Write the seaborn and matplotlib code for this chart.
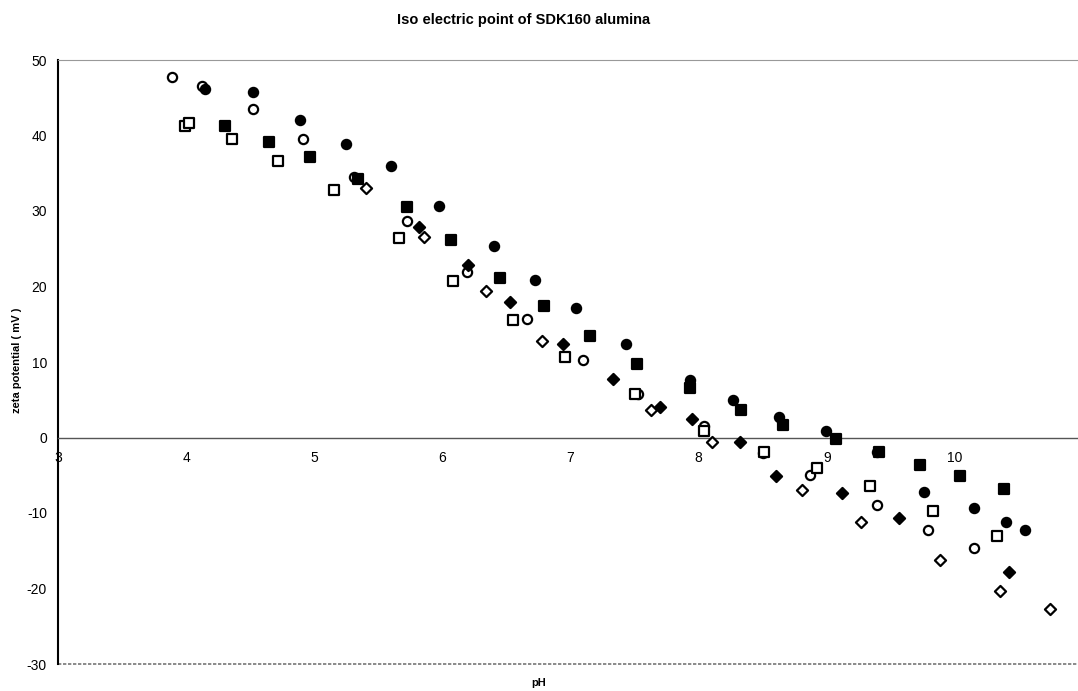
import matplotlib
matplotlib.use("Agg")
import matplotlib.pyplot as plt
import seaborn as sns
import pandas as pd

# ---- data ----
oc_ph = [3.89, 4.12, 4.52, 4.91, 5.31, 5.72, 6.19, 6.66, 7.10, 7.53, 8.04, 8.50, 8.87, 9.39, 9.79, 10.15]
oc_zeta = [47.7, 46.5, 43.5, 39.6, 34.5, 28.7, 21.9, 15.7, 10.3, 5.7, 1.5, -2.0, -5.0, -9.0, -12.2, -14.7]

fc_ph = [4.15, 4.52, 4.89, 5.25, 5.60, 5.97, 6.40, 6.72, 7.04, 7.43, 7.93, 8.27, 8.63, 8.99, 9.39, 9.76, 10.15, 10.40, 10.55]
fc_zeta = [46.1, 45.8, 42.1, 38.9, 35.9, 30.6, 25.4, 20.8, 17.1, 12.4, 7.6, 5.0, 2.7, 0.9, -1.9, -7.2, -9.4, -11.2, -12.3]

fs_ph = [4.30, 4.65, 4.97, 5.34, 5.72, 6.07, 6.45, 6.79, 7.15, 7.52, 7.93, 8.33, 8.66, 9.07, 9.41, 9.73, 10.04, 10.38]
fs_zeta = [41.2, 39.2, 37.2, 34.2, 30.5, 26.2, 21.1, 17.4, 13.5, 9.8, 6.5, 3.6, 1.6, -0.2, -1.9, -3.6, -5.1, -6.8]

os_ph = [3.99, 4.02, 4.36, 4.72, 5.15, 5.66, 6.08, 6.55, 6.96, 7.50, 8.04, 8.51, 8.92, 9.34, 9.83, 10.33]
os_zeta = [41.3, 41.6, 39.6, 36.6, 32.8, 26.4, 20.7, 15.5, 10.7, 5.7, 0.9, -1.9, -4.1, -6.4, -9.7, -13.1]

fd_ph = [5.82, 6.20, 6.53, 6.94, 7.33, 7.70, 7.95, 8.32, 8.60, 9.12, 9.56, 10.42]
fd_zeta = [27.9, 22.8, 18.0, 12.4, 7.7, 4.1, 2.5, -0.6, -5.1, -7.4, -10.7, -17.8]

od_ph = [5.40, 5.86, 6.34, 6.78, 7.63, 8.10, 8.81, 9.27, 9.88, 10.35, 10.74]
od_zeta = [33.0, 26.6, 19.4, 12.8, 3.6, -0.6, -7.0, -11.2, -16.2, -20.3, -22.7]

x_ticks = [3, 4, 5, 6, 7, 8, 9, 10]
y_ticks = [-30, -20, -10, 0, 10, 20, 30, 40, 50]

series = [
    ("oc", oc_ph, oc_zeta, "o", "white"),
    ("fc", fc_ph, fc_zeta, "o", "black"),
    ("fs", fs_ph, fs_zeta, "s", "black"),
    ("os", os_ph, os_zeta, "s", "white"),
    ("fd", fd_ph, fd_zeta, "D", "black"),
    ("od", od_ph, od_zeta, "D", "white"),
]

sns.set_style("white")
plt.rcParams["font.family"] = ["Liberation Sans", "DejaVu Sans"]
plt.rcParams["text.color"] = "black"
plt.rcParams["xtick.color"] = "black"
plt.rcParams["ytick.color"] = "black"

fig = plt.figure(figsize=(10.78, 6.91), dpi=100)
ax = fig.add_axes([58 / 1078, 1 - 664 / 691, 1 - 58 / 1078, (664 - 60) / 691])

for name, xs, ys, mk, fc in series:
    df = pd.DataFrame({"pH": xs, "zeta": ys})
    size = 44 if mk != "D" else 32
    sns.scatterplot(data=df, x="pH", y="zeta", marker=mk, s=size,
                    facecolor=fc, edgecolor="black", linewidth=1.6,
                    ax=ax, legend=False, zorder=3)

ax.set_xlim(3, 10.96)
ax.set_ylim(-30, 50)
ax.set_xticks(x_ticks)
ax.set_yticks(y_ticks)
ax.set_xticklabels([str(t) for t in x_ticks])
ax.set_yticklabels([str(t) for t in y_ticks])

# axis styling (Excel-like)
ax.spines["bottom"].set_position(("data", 0))
ax.spines["bottom"].set_color("#555555")
ax.spines["bottom"].set_linewidth(1.0)
ax.spines["left"].set_color("black")
ax.spines["left"].set_linewidth(1.5)
ax.spines["top"].set_color("#999999")
ax.spines["top"].set_linestyle((0, (2, 1)))
ax.spines["top"].set_linewidth(0.8)
ax.spines["right"].set_visible(False)
ax.axhline(-30, color="#777777", lw=1.2, ls=(0, (2, 1)), zorder=1, clip_on=False)

ax.tick_params(axis="x", direction="inout", length=8, width=0.8, color="#444444",
               labelsize=10, pad=6, labelcolor="black")
ax.tick_params(axis="y", direction="out", length=5, width=0.8, color="black",
               labelsize=10, pad=3, labelcolor="black")

ax.set_xlabel("")
ax.set_ylabel("")
fig.text(0.5, 1 - 683 / 691, "pH", ha="center", va="center", fontsize=8,
         fontweight="bold", color="black")
fig.text(17 / 1078, 1 - 360 / 691, "zeta potential ( mV )", ha="center", va="center",
         rotation=90, fontsize=8, fontweight="bold", color="black")
fig.text(524 / 1078, 1 - 20 / 691, "Iso electric point of SDK160 alumina", ha="center",
         va="center", fontsize=10.5, fontweight="bold", color="black")

fig.savefig("out.png", dpi=100, facecolor="white")
